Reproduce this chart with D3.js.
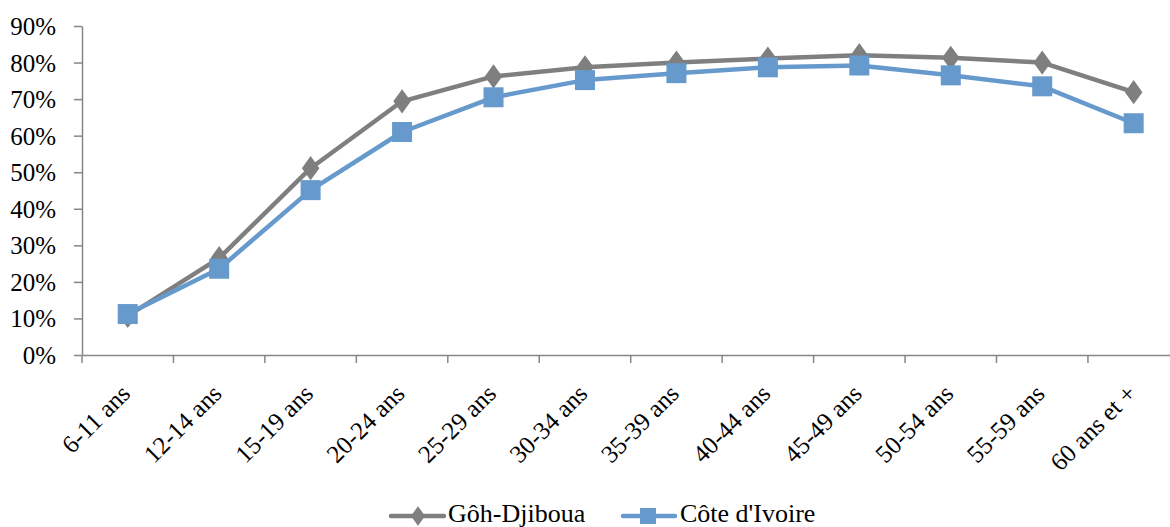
<!DOCTYPE html>
<html><head><meta charset="utf-8">
<script src="https://cdn.jsdelivr.net/npm/d3@7"></script>
<style>body{margin:0;background:#fff}svg{display:block}
svg text{font-family:"Liberation Serif","Times New Roman",serif;fill:#000}</style>
</head><body>
<script>
const categories = ["6-11 ans","12-14 ans","15-19 ans","20-24 ans","25-29 ans","30-34 ans","35-39 ans","40-44 ans","45-49 ans","50-54 ans","55-59 ans","60 ans et +"];
const gohDjiboua = [0.107,0.265,0.511,0.694,0.762,0.787,0.800,0.811,0.820,0.813,0.800,0.719];
const coteIvoire = [0.112,0.236,0.451,0.610,0.705,0.752,0.771,0.787,0.792,0.765,0.735,0.634];
const yTicks = [0,0.1,0.2,0.3,0.4,0.5,0.6,0.7,0.8,0.9];
const seriesNames = ["Gôh-Djiboua","Côte d'Ivoire"];

const W=1170,H=527;
const svg=d3.select("body").append("svg").attr("width",W).attr("height",H);
const mLeft=82, mTop=26, mBottom=355, bandW=91.45;
const x=d3.scaleBand().domain(categories).range([mLeft,mLeft+bandW*categories.length]);
const y=d3.scaleLinear().domain([0,0.9]).range([mBottom,mTop]);
const axisColor="#868686";

// y axis
const ya=svg.append("g").attr("transform",`translate(${mLeft},0)`)
  .call(d3.axisLeft(y).tickValues(yTicks).tickFormat(d3.format(".0%")).tickSize(8).tickSizeOuter(0));
ya.attr("font-family",null).attr("font-size",null);
ya.select(".domain").attr("stroke",axisColor).attr("stroke-width",1.5);
ya.selectAll(".tick line").attr("stroke",axisColor).attr("stroke-width",1.5);
ya.selectAll(".tick text").style("font-size","25px").attr("fill","#000").attr("x",-26).attr("dy","0.34em");

// x axis
const xa=svg.append("g").attr("transform",`translate(0,${mBottom})`)
  .call(d3.axisBottom(x).tickSize(0).tickSizeOuter(0));
xa.attr("font-family",null).attr("font-size",null);
xa.select(".domain").attr("stroke",axisColor).attr("stroke-width",1.5);
xa.selectAll(".bnd").data(d3.range(categories.length+1)).join("line").attr("class","bnd")
  .attr("x1",i=>mLeft+i*bandW).attr("x2",i=>mLeft+i*bandW).attr("y1",0).attr("y2",8)
  .attr("stroke",axisColor).attr("stroke-width",1.5);
xa.selectAll(".tick text").style("font-size","25px").attr("fill","#000")
  .attr("text-anchor","end").attr("x",0).attr("y",0).attr("dy",0)
  .attr("transform",`translate(4,40) rotate(-45)`);

const cx=d=>x(d)+x.bandwidth()/2;
const line=d3.line().x((v,i)=>cx(categories[i])).y(v=>y(v));
const gray="#7f7f7f", blue="#6699cc";

svg.append("path").attr("d",line(gohDjiboua)).attr("fill","none").attr("stroke",gray).attr("stroke-width",4.5).attr("stroke-linejoin","round");
svg.selectAll(".dia").data(gohDjiboua).join("path").attr("class","dia")
  .attr("d",d3.symbol(d3.symbolDiamond,170)())
  .attr("transform",(v,i)=>`translate(${cx(categories[i])},${y(v)}) scale(1.25,1)`).attr("fill",gray);

svg.append("path").attr("d",line(coteIvoire)).attr("fill","none").attr("stroke",blue).attr("stroke-width",4.5).attr("stroke-linejoin","round");
svg.selectAll(".sq").data(coteIvoire).join("rect").attr("class","sq")
  .attr("x",(v,i)=>cx(categories[i])-10).attr("y",v=>y(v)-10).attr("width",20).attr("height",20).attr("fill",blue);

// legend
const lg=svg.append("g");
const ly=516;
lg.append("line").attr("x1",391).attr("x2",444).attr("y1",ly).attr("y2",ly).attr("stroke",gray).attr("stroke-width",4.5).attr("stroke-linecap","round");
lg.append("path").attr("d",d3.symbol(d3.symbolDiamond,110)()).attr("transform",`translate(418,${ly}) scale(1.25,1)`).attr("fill",gray);
lg.append("text").attr("x",448).attr("y",522).style("font-size","26px").text(seriesNames[0]);
lg.append("line").attr("x1",623).attr("x2",675).attr("y1",ly).attr("y2",ly).attr("stroke",blue).attr("stroke-width",4.5).attr("stroke-linecap","round");
lg.append("rect").attr("x",640).attr("y",ly-8).attr("width",16).attr("height",16).attr("fill",blue);
lg.append("text").attr("x",680).attr("y",522).style("font-size","26px").text(seriesNames[1]);
</script>
</body></html>
